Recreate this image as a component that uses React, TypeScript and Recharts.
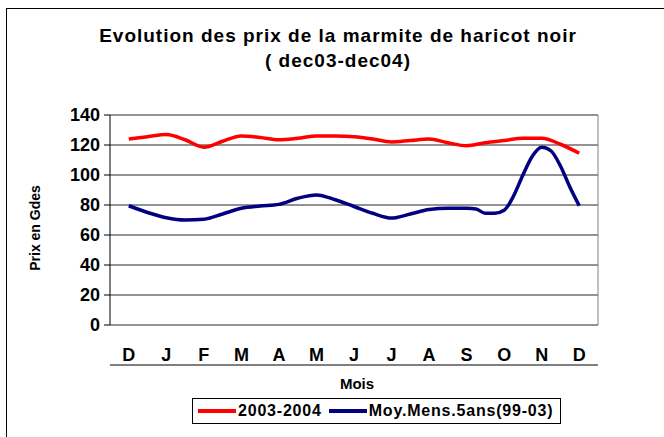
import React from 'react';
import { LineChart, Line, XAxis, YAxis, CartesianGrid, ReferenceLine } from 'recharts';

const months = ['D', 'J', 'F', 'M', 'A', 'M', 'J', 'J', 'A', 'S', 'O', 'N', 'D'];
const monthCenters = [0, 1, 2, 3, 4, 5, 6, 7, 8, 9, 10, 11, 12];
const monthBounds = [-0.5, 0.5, 1.5, 2.5, 3.5, 4.5, 5.5, 6.5, 7.5, 8.5, 9.5, 10.5, 11.5, 12.5];
const yTicks = [0, 20, 40, 60, 80, 100, 120, 140];

const redX = [0, 0.5, 1, 1.5, 2, 2.5, 3, 3.5, 4, 4.5, 5, 5.5, 6, 6.5, 7, 7.5, 8, 8.5, 9, 9.5, 10, 10.5, 11, 11.5, 12];
const redY = [124, 125.5, 127, 123.5, 118.5, 122.5, 126, 125, 123.5, 124.5, 126, 126, 125.5, 124, 122, 123, 124, 121.5, 119.5, 121.5, 123, 124.5, 124.5, 120.5, 114.5];

const blueX = [0, 0.5, 1, 1.5, 2, 2.5, 3, 3.5, 4, 4.5, 5, 5.5, 6, 6.5, 7, 7.5, 8, 8.5, 9, 9.25, 9.5, 9.75, 10, 10.25, 10.5, 10.75, 11, 11.25, 11.5, 11.75, 12];
const blueY = [79.5, 75, 71.5, 70, 70.5, 74, 77.8, 79.3, 80.4, 84.5, 86.7, 83.5, 79, 74.5, 71.3, 74, 77, 77.8, 77.8, 77.3, 74.5, 74.5, 76.5, 86, 100, 112.5, 118.5, 116, 106, 92, 79.5];

const seriesNames = ['2003-2004', 'Moy.Mens.5ans(99-03)'];
const seriesColors = ['#ff0000', '#000080'];

const redData = redX.map((x, i) => ({ x, y: redY[i] }));
const blueData = blueX.map((x, i) => ({ x, y: blueY[i] }));

const FONT = '"Liberation Sans", Arial, sans-serif';

export default function App() {
  return (
    <div
      style={{
        position: 'absolute',
        left: 0,
        top: 0,
        width: 664,
        height: 437,
        overflow: 'hidden',
        background: '#fff',
        fontFamily: FONT,
      }}
    >
      <div
        style={{
          position: 'absolute',
          left: 6,
          top: 8,
          width: 700,
          height: 500,
          border: '1px solid #000',
        }}
      />
      <div
        style={{
          position: 'absolute',
          left: 0,
          width: 676,
          top: 23,
          textAlign: 'center',
          fontWeight: 'bold',
          fontSize: 19,
          letterSpacing: 1,
          lineHeight: '25px',
          color: '#000',
        }}
      >
        <div>Evolution des prix de la marmite de haricot noir</div>
        <div>( dec03-dec04)</div>
      </div>
      <div style={{ position: 'absolute', left: 0, top: 0 }}>
        <LineChart width={664} height={437} margin={{ top: 115, right: 66, left: 0, bottom: 66 }}>
          <CartesianGrid vertical={false} stroke="#000" strokeOpacity={0.85} />
          <XAxis
            xAxisId="t"
            type="number"
            dataKey="x"
            domain={[-0.5, 12.5]}
            ticks={monthBounds}
            interval={0}
            tick={false}
            tickSize={6}
            height={6}
            axisLine={{ stroke: '#000' }}
            tickLine={{ stroke: '#000' }}
            allowDataOverflow
          />
          <XAxis
            xAxisId="l"
            type="number"
            dataKey="x"
            domain={[-0.5, 12.5]}
            ticks={monthCenters}
            interval={0}
            tickFormatter={(v: number) => months[v]}
            tick={{ fill: '#000', fontSize: 18, fontWeight: 'bold', fontFamily: FONT }}
            tickLine={false}
            axisLine={false}
            tickSize={0}
            tickMargin={23}
            height={40}
            allowDataOverflow
          />
          <YAxis
            type="number"
            domain={[0, 140]}
            ticks={yTicks}
            interval={0}
            width={110}
            tickSize={6}
            tickMargin={4}
            axisLine={{ stroke: '#000' }}
            tickLine={{ stroke: '#000' }}
            tick={{ fill: '#000', fontSize: 18, fontWeight: 'bold', fontFamily: FONT }}
          />
          <ReferenceLine xAxisId="t" x={12.5} stroke="#808080" />
          <Line
            xAxisId="t"
            data={redData}
            dataKey="y"
            type="monotone"
            stroke={seriesColors[0]}
            strokeWidth={3.5}
            dot={false}
            isAnimationActive={false}
          />
          <Line
            xAxisId="t"
            data={blueData}
            dataKey="y"
            type="monotone"
            stroke={seriesColors[1]}
            strokeWidth={3.5}
            dot={false}
            isAnimationActive={false}
          />
        </LineChart>
      </div>
      <div
        style={{
          position: 'absolute',
          left: 35,
          top: 228,
          transform: 'translate(-50%, -50%) rotate(-90deg)',
          fontSize: 14,
          fontWeight: 'bold',
          whiteSpace: 'nowrap',
        }}
      >
        Prix en Gdes
      </div>
      <div
        style={{
          position: 'absolute',
          left: 357,
          top: 383,
          transform: 'translate(-50%, -50%)',
          fontSize: 15,
          fontWeight: 'bold',
        }}
      >
        Mois
      </div>
      <div
        style={{
          position: 'absolute',
          left: 192,
          top: 398,
          width: 367,
          height: 24,
          border: '1px solid #000',
          display: 'flex',
          alignItems: 'center',
          fontSize: 16,
          fontWeight: 'bold',
          letterSpacing: 0.8,
          whiteSpace: 'nowrap',
        }}
      >
        {seriesNames.map((name, i) => (
          <div key={name} style={{ display: 'flex', alignItems: 'center', marginLeft: i === 0 ? 5 : 7 }}>
            <div style={{ width: 38, height: 3.5, background: seriesColors[i], marginRight: 2 }} />
            <span>{name}</span>
          </div>
        ))}
      </div>
    </div>
  );
}
